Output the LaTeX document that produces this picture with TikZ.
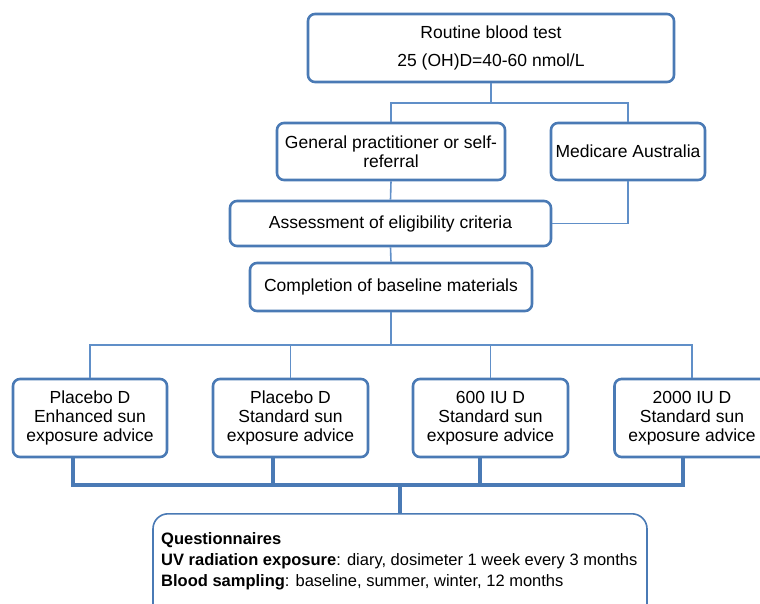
\documentclass[tikz,border=0pt]{standalone}
\usepackage{fontspec}
\setmainfont{Liberation Sans}
\definecolor{boxblue}{RGB}{74,122,181}
\definecolor{lineblue}{RGB}{96,143,200}
\begin{document}
\begin{tikzpicture}[x=1pt,y=1pt,
  box/.style={draw=boxblue, line width=2.6pt, rounded corners=7pt, fill=white,
    inner sep=0pt, align=center, font=\fontsize{17.5}{19}\selectfont},
  thin/.style={draw=lineblue, line width=1.6pt},
  thick/.style={draw=boxblue, line width=4pt}]
\useasboundingbox (0,0) rectangle (760,-603);
% nodes
\node[box, minimum width=366pt, minimum height=68pt, font=\fontsize{17.5}{28}\selectfont] (top) at (491,-48) {Routine blood test\\25 (OH)D=40-60 nmol/L};
\node[box, minimum width=228pt, minimum height=57pt] (gp) at (391,-151.5) {General practitioner or self-\\referral};
\node[box, minimum width=154pt, minimum height=57pt] (med) at (628,-151.5) {Medicare Australia};
\node[box, minimum width=321pt, minimum height=45pt] (assess) at (390.5,-223.5) {Assessment of eligibility criteria};
\node[box, minimum width=282pt, minimum height=48pt] (comp) at (391,-287) {Completion of baseline materials};
\node[box, minimum width=154pt, minimum height=78pt] (b1) at (90,-418) {Placebo D\\Enhanced sun\\exposure advice};
\node[box, minimum width=155pt, minimum height=78pt] (b2) at (290.5,-418) {Placebo D\\Standard sun\\exposure advice};
\node[box, minimum width=155pt, minimum height=78pt] (b3) at (490.5,-418) {600 IU D\\Standard sun\\exposure advice};
\node[box, minimum width=155pt, minimum height=78pt] (b4) at (692,-418) {2000 IU D\\Standard sun\\exposure advice};
\node[draw=boxblue, line width=1.6pt, rounded corners=15pt, fill=white, minimum width=494pt, minimum height=120pt, inner sep=0pt, anchor=north] (q) at (400,-513) {};
\node[anchor=north west, inner sep=0pt, align=left, font=\fontsize{16.5}{21}\selectfont] (qtext) at (161,-532) {\textbf{Questionnaires}\\\textbf{UV radiation exposure}: diary, dosimeter 1 week every 3 months\\\textbf{Blood sampling}: baseline, summer, winter, 12 months};
% junctions
\coordinate (j1) at (491,-103);
\coordinate (j2) at (391,-345);
\coordinate (j3) at (400,-485);
% thin connectors
\draw[thin] (top.south) -- (j1);
\draw[thin] (gp.north) -- (gp.north |- j1) -- (med.north |- j1) -- (med.north);
\draw[thin] (gp.south) -- (assess.north);
\draw[thin] (med.south) |- (assess.east);
\draw[thin] (assess.south) -- (comp.north);
\draw[thin] (comp.south) -- (j2);
\draw[thin] (b1.north) -- (b1.north |- j2) -- (b4.north |- j2) -- (b4.north);
\draw[thin] (b2.north) -- (b2.north |- j2);
\draw[thin] (b3.north) -- (b3.north |- j2);
% thick connectors
\draw[thick] ([xshift=-17pt]b1.south) -- ([xshift=-17pt]b1.south |- j3) -- ([xshift=-9pt]b4.south |- j3) -- ([xshift=-9pt]b4.south);
\draw[thick] ([xshift=-17.5pt]b2.south) -- ([xshift=-17.5pt]b2.south |- j3);
\draw[thick] ([xshift=-10.5pt]b3.south) -- ([xshift=-10.5pt]b3.south |- j3);
\draw[thick] (j3) -- (q.north);
\end{tikzpicture}
\end{document}
